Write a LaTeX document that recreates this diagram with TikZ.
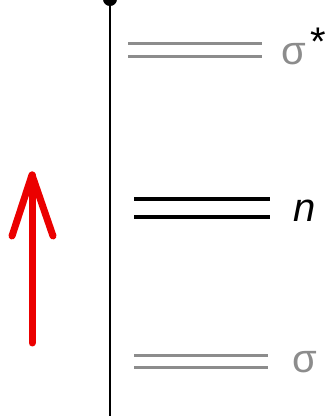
\documentclass[tikz,border=0pt]{standalone}
\usepackage{fontspec}
\setmainfont{Liberation Sans}
\usetikzlibrary{arrows.meta}
\definecolor{levelgray}{RGB}{140,140,140}
\definecolor{arrowred}{RGB}{235,0,0}
\tikzset{
  level/.style={line width=3pt},
  lab/.style={anchor=base west, inner sep=0pt, font=\fontsize{40}{48}\selectfont},
}
\begin{document}
\begin{tikzpicture}[x=1pt, y=1pt, >=Latex]
  \useasboundingbox (0,0) rectangle (326,416);
  % energy axis
  \coordinate (axbot) at (110,-5);
  \coordinate (axtop) at (110,424);
  \draw[line width=2pt, -{Circle[length=14pt]}] (axbot) -- (axtop);
  % sigma* level
  \draw[levelgray, level] (128,372) -- (262,372);
  \draw[levelgray, level] (128,359) -- (262,359);
  \node[lab, levelgray] (sstar) at (281,351) {σ\kern5pt\raisebox{9pt}{\color{black}*}};
  % n level
  \draw[level, line width=3.5pt] (134,217) -- (270,217);
  \draw[level, line width=3.5pt] (134,199) -- (270,199);
  \node[lab] (nlev) at (293,194) {\textit{n}};
  % sigma level
  \draw[levelgray, level] (134,60) -- (268,60);
  \draw[levelgray, level] (134,48) -- (268,48);
  \node[lab, levelgray] (slev) at (292,43) {σ};
  % red arrow
  \coordinate (tail) at (32,73);
  \coordinate (head) at (32,241);
  \coordinate (lw) at (12,180);
  \coordinate (rw) at (53,180);
  \draw[arrowred, line width=7pt, line cap=round] (tail) -- (head);
  \draw[arrowred, line width=7pt, line cap=round, line join=round] (lw) -- (head) -- (rw);
\end{tikzpicture}
\end{document}
